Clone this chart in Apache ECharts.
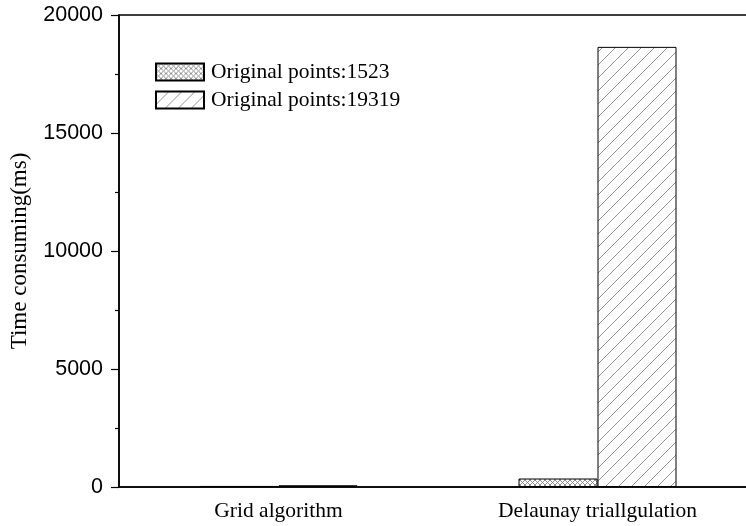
<!DOCTYPE html>
<html><head><meta charset="utf-8">
<script src="https://cdn.jsdelivr.net/npm/echarts@6/dist/echarts.min.js"></script>
<style>html,body{margin:0;padding:0;background:#fff;overflow:hidden;width:746px;height:526px}#c{width:757px;height:526px}</style>
</head><body><div id="c"></div>
<script>
const categories = ['Grid algorithm', 'Delaunay triallgulation'];
const seriesNames = ['Original points:1523', 'Original points:19319'];
const values1523 = [45, 360];
const values19319 = [75, 18650];
const yTicks = [0, 5000, 10000, 15000, 20000];

function crossPattern() {
  const c = document.createElement('canvas');
  c.width = 5; c.height = 5;
  const g = c.getContext('2d');
  g.fillStyle = '#fff'; g.fillRect(0, 0, 5, 5);
  g.strokeStyle = '#777'; g.lineWidth = 0.8;
  g.beginPath();
  g.moveTo(0, 0); g.lineTo(5, 5);
  g.moveTo(0, 5); g.lineTo(5, 0);
  g.stroke();
  return c;
}
function diagPattern() {
  const s = 13;
  const c = document.createElement('canvas');
  c.width = s; c.height = s;
  const g = c.getContext('2d');
  g.fillStyle = '#fff'; g.fillRect(0, 0, s, s);
  g.strokeStyle = '#888'; g.lineWidth = 0.9;
  g.beginPath();
  g.moveTo(-1, s + 1); g.lineTo(s + 1, -1);
  g.moveTo(-1, 1); g.lineTo(1, -1);
  g.moveTo(s - 1, s + 1); g.lineTo(s + 1, s - 1);
  g.stroke();
  return c;
}

const chart = echarts.init(document.getElementById('c'));
chart.setOption({
  backgroundColor: '#fff',
  animation: false,
  grid: { left: 119, top: 15, bottom: 39, right: 0, show: true, borderColor: '#000', borderWidth: 1.5 },
  legend: {
    orient: 'vertical', left: 155, top: 61, padding: 0,
    icon: 'rect',
    itemWidth: 48, itemHeight: 17, itemGap: 6,
    textStyle: { fontFamily: 'Liberation Serif', fontSize: 21.5, color: '#000', padding: [0, 0, 0, 2] },
    data: seriesNames
  },
  xAxis: {
    type: 'category', data: categories,
    axisLine: { lineStyle: { color: '#000', width: 1.5 } },
    axisTick: { alignWithLabel: true, length: 9, lineStyle: { color: '#000', width: 1.5 } },
    axisLabel: { fontFamily: 'Liberation Serif', fontSize: 21.5, color: '#000', margin: 13 }
  },
  yAxis: {
    type: 'value', min: yTicks[0], max: yTicks[yTicks.length - 1], interval: 5000,
    name: 'Time consuming(ms)', nameLocation: 'middle', nameGap: 88,
    nameTextStyle: { fontFamily: 'Liberation Serif', fontSize: 23, color: '#000' },
    axisLine: { show: true, lineStyle: { color: '#000', width: 1.5 } },
    axisTick: { show: true, length: 8, lineStyle: { color: '#000', width: 1.2 } },
    minorTick: { show: true, splitNumber: 2, length: 4, lineStyle: { color: '#000', width: 1.2 } },
    splitLine: { show: false },
    axisLabel: { fontFamily: 'Liberation Sans', fontSize: 21.5, color: '#000', margin: 16, formatter: v => String(v) }
  },
  series: [
    {
      name: seriesNames[0], type: 'bar', data: values1523,
      barWidth: 79, barGap: '0%',
      itemStyle: { color: { image: crossPattern(), repeat: 'repeat' }, borderColor: '#000', borderWidth: 1 }
    },
    {
      name: seriesNames[1], type: 'bar', data: values19319,
      barWidth: 79, barGap: '0%',
      itemStyle: { color: { image: diagPattern(), repeat: 'repeat' }, borderColor: '#000', borderWidth: 1 }
    }
  ]
});
</script>
</body></html>
